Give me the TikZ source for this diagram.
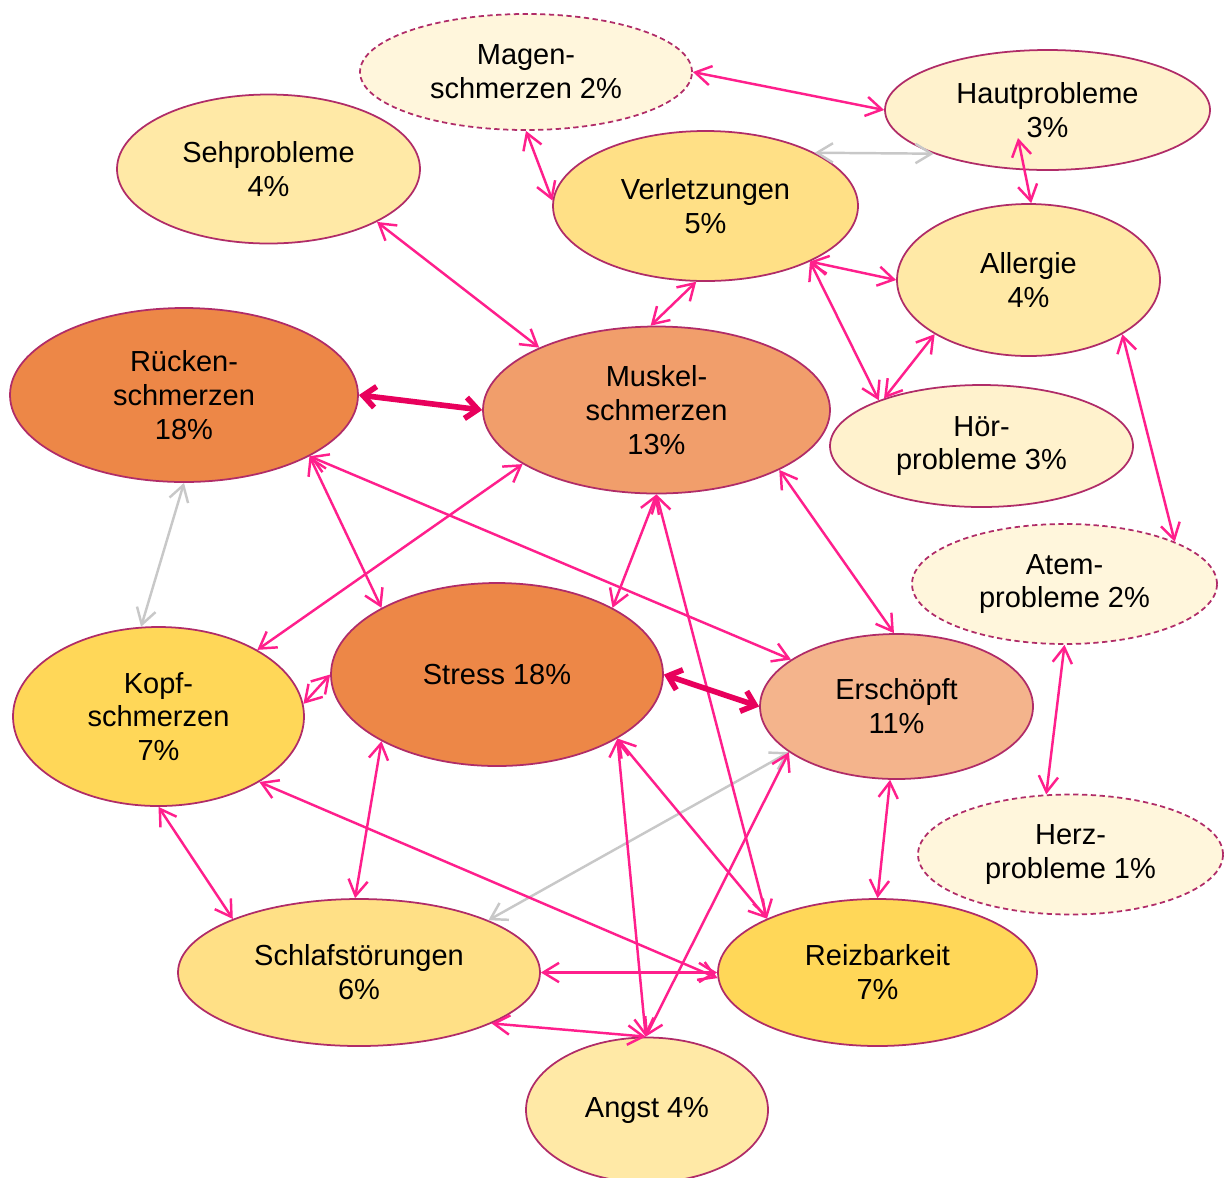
\documentclass[tikz,border=0pt]{standalone}
\usepackage{fontspec}
\setmainfont{Liberation Sans}
\usepackage[dvipsnames, svgnames, x11names]{xcolor}
\usepackage{tikz}
\definecolor{Brdr}{RGB}{176,44,104}
\definecolor{Pnk}{RGB}{255,31,140}
\definecolor{Pnk1}{RGB}{232,0,92}
\definecolor{Gry}{RGB}{200,200,200}
\definecolor{Lvl1}{RGB}{237,135,71}
\definecolor{Lvl2}{RGB}{241,158,107}
\definecolor{Lvl3}{RGB}{244,180,140}
\definecolor{Lvl4}{RGB}{255,215,88}
\definecolor{Lvl5}{RGB}{255,224,134}
\definecolor{Lvl6}{RGB}{255,233,166}
\definecolor{Lvl7}{RGB}{255,242,205}
\definecolor{Lvl8}{RGB}{255,246,220}
\usetikzlibrary{shapes.geometric, arrows.meta}

\tikzset{
    bubble/.style={ellipse, draw=Brdr, line width=1pt, inner sep=0pt,
                   align=center, font=\fontsize{16.5}{19.3}\selectfont},
    rare/.style={bubble, dash pattern=on 3pt off 2pt},
    link/.style={draw=Pnk, line width=1.4pt,
                 {Straight Barb[length=9pt,width=11pt]}-{Straight Barb[length=9pt,width=11pt]}},
    linkgry/.style={link, draw=Gry},
    linkbold/.style={draw=Pnk1, line width=3.2pt,
                 {Straight Barb[length=7pt,width=12pt]}-{Straight Barb[length=7pt,width=12pt]}}
}

\begin{document}
\begin{tikzpicture}
    \useasboundingbox (0,0) rectangle (24.54,-23.54);

    \node [rare, fill=Lvl8, minimum width=6.64cm, minimum height=2.32cm] (mag) at (10.52,-1.44) {Magen-\\schmerzen 2\%};
    \node [bubble, fill=Lvl7, minimum width=6.5cm, minimum height=2.4cm] (haut) at (20.95,-2.2) {Hautprobleme\\3\%};
    \node [bubble, fill=Lvl6, minimum width=6.06cm, minimum height=2.98cm] (seh) at (5.37,-3.38) {Sehprobleme\\4\%};
    \node [bubble, fill=Lvl5, minimum width=6.1cm, minimum height=3.0cm] (verl) at (14.11,-4.12) {Verletzungen\\5\%};
    \node [bubble, fill=Lvl6, minimum width=5.26cm, minimum height=3.04cm] (allg) at (20.57,-5.6) {Allergie\\4\%};
    \node [bubble, fill=Lvl1, minimum width=6.96cm, minimum height=3.48cm] (rue) at (3.68,-7.9) {Rücken-\\schmerzen\\18\%};
    \node [bubble, fill=Lvl2, minimum width=6.94cm, minimum height=3.34cm] (musk) at (13.13,-8.2) {Muskel-\\schmerzen\\13\%};
    \node [bubble, fill=Lvl7, minimum width=6.06cm, minimum height=2.44cm] (hoer) at (19.63,-8.92) {Hör-\\probleme 3\%};
    \node [rare, fill=Lvl8, minimum width=6.1cm, minimum height=2.4cm] (atem) at (21.29,-11.68) {Atem-\\probleme 2\%};
    \node [bubble, fill=Lvl4, minimum width=5.82cm, minimum height=3.58cm] (kopf) at (3.17,-14.33) {Kopf-\\schmerzen\\7\%};
    \node [bubble, fill=Lvl1, minimum width=6.64cm, minimum height=3.66cm] (stress) at (9.94,-13.49) {Stress 18\%};
    \node [bubble, fill=Lvl3, minimum width=5.46cm, minimum height=2.9cm] (ersch) at (17.93,-14.13) {Erschöpft\\11\%};
    \node [rare, fill=Lvl8, minimum width=6.1cm, minimum height=2.4cm] (herz) at (21.41,-17.09) {Herz-\\probleme 1\%};
    \node [bubble, fill=Lvl5, minimum width=7.24cm, minimum height=2.94cm] (schlaf) at (7.18,-19.45) {Schlafstörungen\\6\%};
    \node [bubble, fill=Lvl4, minimum width=6.38cm, minimum height=2.94cm] (reiz) at (17.55,-19.45) {Reizbarkeit\\7\%};
    \node [bubble, fill=Lvl6, minimum width=4.84cm, minimum height=2.9cm] (angst) at (12.94,-22.2) {Angst 4\%};

    \draw [linkgry] (verl.26) -- (haut.201);
    \draw [linkgry] (rue.-90) -- (kopf.101);
    \draw [linkgry] (ersch.203) -- (schlaf.22);

    \draw [link] (mag.0) -- (haut.180);
    \draw [link] (mag.-90) -- (verl.178);
    \draw [link] ([shift={(-0.59,-0.56)}]haut.center) -- (allg.88);
    \draw [link] (seh.-26) -- (musk.152);
    \draw [link] (verl.-97) -- (musk.94);
    \draw [link] (verl.-28) -- (allg.180);
    \draw [link] (verl.-28) -- (hoer.156);
    \draw [link] (allg.210) -- (hoer.154);
    \draw [link] (allg.-30) -- (atem.21);
    \draw [link] (rue.-26) -- (stress.150);
    \draw [link] (rue.-26) -- (ersch.156);
    \draw [link] (musk.202) -- (kopf.34);
    \draw [link] (musk.-90) -- (stress.30);
    \draw [link] (musk.-90) -- (reiz.154);
    \draw [link] (musk.-26) -- (ersch.92);
    \draw [link] (atem.-90) -- (herz.112);
    \draw [link] (kopf.5) -- (stress.180);
    \draw [link] (stress.210) -- (schlaf.93);
    \draw [link] (stress.-28) -- (angst.91);
    \draw [link] (stress.-28) -- (reiz.154);
    \draw [link] (kopf.-90) -- (schlaf.157);
    \draw [link] (kopf.-33) -- (reiz.182);
    \draw [link] (ersch.-95) -- (reiz.90);
    \draw [link] (ersch.203) -- (angst.91);
    \draw [link] (schlaf.0) -- (reiz.180);
    \draw [link] (schlaf.-21) -- (angst.91);

    \draw [linkbold] (rue.0) -- (musk.180);
    \draw [linkbold] (stress.0) -- (ersch.180);
\end{tikzpicture}
\end{document}
